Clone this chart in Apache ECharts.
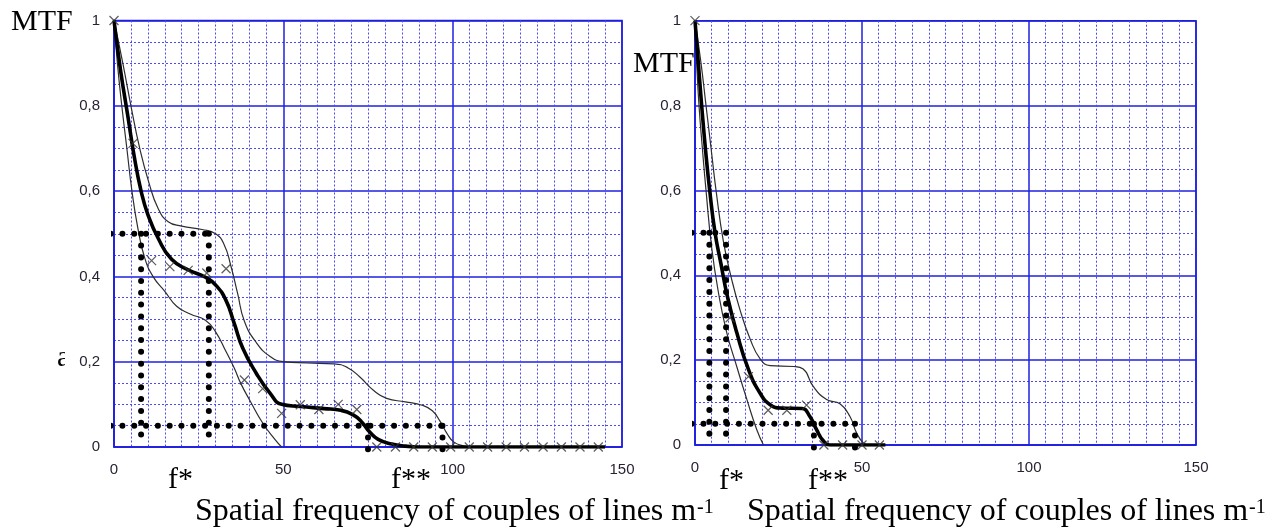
<!DOCTYPE html>
<html>
<head>
<meta charset="utf-8">
<script src="https://cdn.jsdelivr.net/npm/echarts@6/dist/echarts.min.js"></script>
<style>
  html, body { margin: 0; padding: 0; background: #fff; }
  #chart { width: 1277px; height: 530px; }
</style>
</head>
<body>
<div id="chart"></div>
<script>
// ---- Axis ticks ----
const xTicks = [0, 50, 100, 150];
const yTickLabels = ['0', '0,2', '0,4', '0,6', '0,8', '1'];

// ---- Left panel: MTF curves (spatial frequency, MTF) ----
const leftMean = [
  [0, 1], [2, 0.88], [4, 0.78], [6, 0.68], [8, 0.6], [10, 0.545], [13, 0.49], [17, 0.44],
  [22, 0.415], [27, 0.398], [30, 0.38], [33, 0.345], [35.5, 0.29], [38, 0.232], [42, 0.173],
  [46, 0.127], [49.5, 0.1], [55, 0.095], [62, 0.09], [67, 0.086], [70.5, 0.076], [73, 0.06],
  [75.5, 0.035], [78, 0.018], [82, 0.007], [86, 0.002], [90, 0], [118, 0], [145, 0]
];
const leftUpper = [
  [0, 1], [2.6, 0.9], [5, 0.8], [7.6, 0.7], [10.3, 0.62], [13, 0.56], [16, 0.528],
  [20, 0.518], [26, 0.51], [30, 0.5], [32.5, 0.475], [34.5, 0.425], [36.5, 0.36],
  [38.5, 0.295], [42, 0.245], [46, 0.213], [50, 0.2], [57, 0.197], [65, 0.195],
  [69, 0.186], [72.6, 0.164], [76.6, 0.133], [80.5, 0.114], [86, 0.106], [91, 0.098],
  [94, 0.085], [96.3, 0.06], [98.3, 0.032], [100.3, 0.012], [103, 0.003], [106, 0]
];
const leftLower = [
  [0, 1], [1, 0.9], [2.3, 0.8], [3.8, 0.7], [5.3, 0.6], [7, 0.515], [9, 0.445],
  [11.5, 0.4], [15, 0.365], [18.5, 0.33], [22.5, 0.312], [27, 0.297], [30, 0.27],
  [33, 0.225], [35.5, 0.185], [37.5, 0.148], [40.2, 0.108], [44, 0.055], [47.5, 0.018], [49.5, 0]
];
const leftMeasured = [
  [0, 1], [5.6, 0.712], [11.1, 0.437], [16.5, 0.423], [21.9, 0.414], [27.4, 0.408],
  [33.1, 0.418], [38.5, 0.157], [43.9, 0.137], [49.5, 0.079], [55, 0.099], [60.5, 0.088],
  [66.2, 0.1], [71.7, 0.088], [77.6, 0], [83.1, 0], [88.5, 0], [94, 0], [99.4, 0],
  [104.9, 0], [110.3, 0], [115.8, 0], [121.2, 0], [126.7, 0], [132.1, 0], [137.6, 0], [143, 0]
];
// threshold levels and the frequencies where the curves cross them
const leftHalfLevel = 0.5;
const leftLowLevel = 0.05;
const leftFStar = [8, 28];
const leftFStarStar = [75, 97];

// ---- Right panel ----
const rightMean = [
  [0, 1], [1, 0.9], [2, 0.8], [3.1, 0.7], [4.4, 0.6], [6, 0.5], [7.7, 0.43], [9.7, 0.35],
  [12.5, 0.265], [16, 0.178], [19.5, 0.122], [22.5, 0.095], [26, 0.087], [32, 0.086],
  [34.4, 0.067], [36.4, 0.036], [38.4, 0.01], [40.4, 0], [48, 0], [57, 0]
];
const rightUpper = [
  [0, 1], [1.8, 0.9], [3.3, 0.8], [4.8, 0.7], [6.3, 0.6], [8.5, 0.48], [11, 0.39],
  [13.5, 0.318], [16.5, 0.25], [19.5, 0.203], [22.5, 0.187], [29.5, 0.185], [32.4, 0.179],
  [35.4, 0.138], [39.4, 0.107], [43.4, 0.097], [46.4, 0.067], [48.4, 0.028], [50.4, 0.005],
  [52, 0], [57, 0]
];
const rightLower = [
  [0, 1], [0.5, 0.9], [1.2, 0.8], [2.2, 0.7], [3.3, 0.6], [5, 0.465], [7, 0.36],
  [9.5, 0.265], [12.5, 0.185], [15.5, 0.108], [18.5, 0.036], [20.5, 0]
];
const rightMeasured = [
  [0, 1], [10.5, 0.3], [16, 0.161], [21.9, 0.082], [27.5, 0.082], [33.4, 0.094],
  [38.6, 0], [44.2, 0], [50, 0], [55.2, 0]
];
const rightHalfLevel = 0.5;
const rightLowLevel = 0.05;
const rightFStar = [4.3, 9.3];
const rightFStarStar = [35.6, 47.9];

// ---- Styling ----
const BLUE = '#1f1fe0';
const MINOR = '#4b4bf2';
const TICK_FONT = 'Arial, "Liberation Sans", sans-serif';
const SERIF = '"Times New Roman", "Liberation Serif", serif';

function xAxisCfg(gi) {
  return {
    type: 'value', gridIndex: gi, min: xTicks[0], max: xTicks[xTicks.length - 1],
    interval: xTicks[1] - xTicks[0],
    axisLine: { show: true, onZero: false, lineStyle: { color: BLUE, width: 1.5 } },
    axisTick: { show: false },
    axisLabel: { color: '#2a2233', fontSize: 15, fontFamily: TICK_FONT, margin: 15 },
    splitLine: { show: true, lineStyle: { color: BLUE, width: 1.5 } },
    minorTick: { show: false, splitNumber: 10 },
    minorSplitLine: { show: true, lineStyle: { color: MINOR, width: 1, type: [2, 2] } }
  };
}
function yAxisCfg(gi) {
  return {
    type: 'value', gridIndex: gi, min: 0, max: 1, interval: 0.2,
    axisLine: { show: true, lineStyle: { color: BLUE, width: 1.5 } },
    axisTick: { show: false },
    axisLabel: {
      color: '#2a2233', fontSize: 15, fontFamily: TICK_FONT, margin: 14,
      formatter: v => yTickLabels[Math.round(v / 0.2)]
    },
    splitLine: { show: true, lineStyle: { color: BLUE, width: 1.5 } },
    minorTick: { show: false, splitNumber: 4 },
    minorSplitLine: { show: true, lineStyle: { color: MINOR, width: 1, type: [2, 2] } }
  };
}

function curve(data, gi, thick) {
  return {
    type: 'line', xAxisIndex: gi, yAxisIndex: gi, data: data,
    showSymbol: false, smooth: 0.5, z: thick ? 4 : 3,
    lineStyle: { color: thick ? '#000' : '#2e2e2e', width: thick ? 3.6 : 1.2 }
  };
}
function crosses(data, gi) {
  return {
    type: 'scatter', xAxisIndex: gi, yAxisIndex: gi, data: data, z: 5,
    symbol: 'path://M0,0L10,10M10,0L0,10', symbolSize: 9, clip: false,
    itemStyle: { color: 'transparent', borderColor: '#333', borderWidth: 1.2 }
  };
}
function dots(seg, gi) {
  return {
    type: 'line', xAxisIndex: gi, yAxisIndex: gi, data: seg, z: 6, clip: false,
    showSymbol: false, silent: true,
    lineStyle: { color: '#000', width: 6, type: [0.01, 11.8], cap: 'round' }
  };
}
// dotted guide lines: level lines and drop lines to the f* / f** frequencies
function guides(half, low, fs, fss, lowEnd, gi) {
  return [
    dots([[-1, half], [fs[1], half]], gi),
    dots([[fs[0], half], [fs[0], 0.022]], gi),
    dots([[fs[1], half], [fs[1], 0.022]], gi),
    dots([[-1, low], [fss[1], low]], gi),
    dots([[fss[0], low], [fss[0], lowEnd]], gi),
    dots([[fss[1], low], [fss[1], lowEnd]], gi)
  ];
}

function txt(x, y, s, size, extra) {
  return Object.assign({
    type: 'text', x: x, y: y, z: 20,
    style: { text: s, fill: '#000', font: size + 'px ' + SERIF, verticalAlign: 'middle' }
  }, extra || {});
}

const option = {
  animation: false,
  backgroundColor: '#fff',
  grid: [
    { left: 114, top: 20.5, width: 508, height: 426.5, outerBoundsMode: 'none', containLabel: false,
      show: true, borderColor: BLUE, borderWidth: 1.5, backgroundColor: 'transparent' },
    { left: 695, top: 20.7, width: 501, height: 424.3, outerBoundsMode: 'none', containLabel: false,
      show: true, borderColor: BLUE, borderWidth: 1.5, backgroundColor: 'transparent' }
  ],
  xAxis: [xAxisCfg(0), xAxisCfg(1)],
  yAxis: [yAxisCfg(0), yAxisCfg(1)],
  series: [
    curve(leftUpper, 0, false), curve(leftLower, 0, false), curve(leftMean, 0, true),
    crosses(leftMeasured, 0),
    ...guides(leftHalfLevel, leftLowLevel, leftFStar, leftFStarStar, -0.01, 0),
    curve(rightUpper, 1, false), curve(rightLower, 1, false), curve(rightMean, 1, true),
    crosses(rightMeasured, 1),
    ...guides(rightHalfLevel, rightLowLevel, rightFStar, rightFStarStar, -0.008, 1)
  ],
  graphic: [
    txt(11, 22, 'MTF', 30),
    txt(633, 64, 'MTF', 30),
    txt(57, 358, 'a', 30),
    { type: 'rect', z: 21, shape: { x: 65, y: 344, width: 10, height: 26 }, style: { fill: '#fff' } },
    txt(168, 480, 'f*', 30),
    txt(391, 480, 'f**', 30),
    txt(719, 481, 'f*', 30),
    txt(808, 481, 'f**', 30),
    txt(195, 512, 'Spatial frequency of couples of lines m', 32),
    txt(697, 508, '-1', 20),
    txt(747, 512, 'Spatial frequency of couples of lines m', 32),
    txt(1249, 508, '-1', 20)
  ]
};

const chart = echarts.init(document.getElementById('chart'), null, { renderer: 'canvas' });
chart.setOption(option);
</script>
</body>
</html>
